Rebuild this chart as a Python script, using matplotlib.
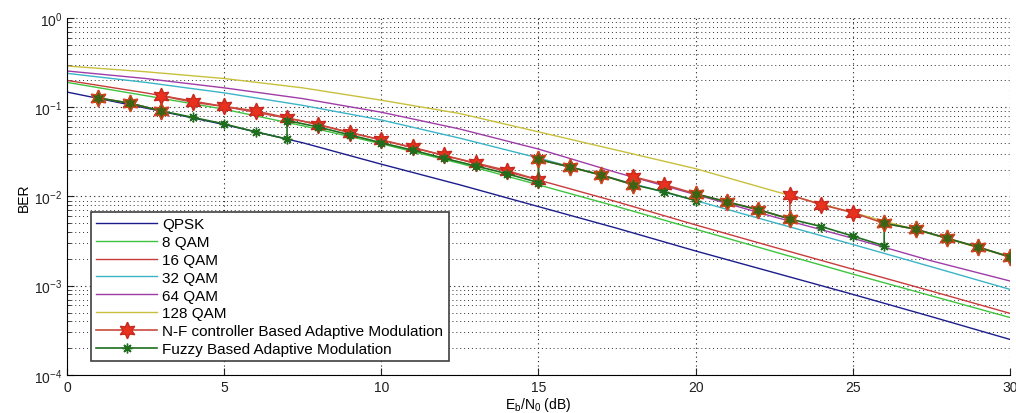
import matplotlib
matplotlib.use("Agg")
import matplotlib.pyplot as plt
import numpy as np
from matplotlib.ticker import LogLocator, FixedLocator, NullFormatter

plt.rcParams['font.family'] = ['Liberation Sans', 'DejaVu Sans']

# ---- theoretical curves (read at 2.5 dB steps) ----
snr = [0, 2.5, 5, 7.5, 10, 12.5, 15, 17.5, 20, 22.5, 25, 27.5, 30]
ber_qpsk = [0.148, 0.098, 0.064, 0.040, 0.023, 0.0135, 0.0077, 0.0044, 0.00245, 0.00140, 0.00080, 0.00045, 0.00025]
ber_8qam = [0.19, 0.135, 0.095, 0.062, 0.039, 0.0235, 0.0135, 0.0077, 0.0043, 0.0024, 0.00135, 0.00077, 0.00044]
ber_16qam = [0.20, 0.145, 0.102, 0.070, 0.043, 0.026, 0.0153, 0.0087, 0.0048, 0.0027, 0.00153, 0.00087, 0.00049]
ber_32qam = [0.24, 0.19, 0.145, 0.105, 0.072, 0.045, 0.027, 0.0155, 0.009, 0.0051, 0.0029, 0.00163, 0.00091]
ber_64qam = [0.255, 0.21, 0.165, 0.125, 0.088, 0.057, 0.034, 0.0185, 0.0105, 0.0059, 0.0034, 0.0019, 0.00113]
ber_128qam = [0.29, 0.25, 0.21, 0.165, 0.12, 0.085, 0.053, 0.033, 0.0205, 0.0115, 0.0066, 0.0038, 0.0021]

# ---- adaptive modulation results ----
nf_x = [1, 2, 3, 3, 4, 5, 6, 7, 8, 9, 10, 11, 12, 13, 14, 15, 15, 16, 17, 18, 18,
        19, 20, 21, 22, 23, 23, 24, 25, 26, 27, 28, 29, 30]
nf_ber = [0.127, 0.111, 0.091, 0.135, 0.114, 0.102, 0.091, 0.076, 0.064, 0.052, 0.043,
          0.0355, 0.0288, 0.0237, 0.0195, 0.0153, 0.026, 0.0214, 0.0174, 0.0136, 0.0167,
          0.0136, 0.0107, 0.0087, 0.0071, 0.0056, 0.0104, 0.0081, 0.0066, 0.005, 0.0043,
          0.0034, 0.0027, 0.0021]
fz_x = [1, 2, 3, 4, 5, 6, 7, 7, 8, 9, 10, 11, 12, 13, 14, 15, 15, 16, 17, 18, 19, 20, 20,
        21, 22, 23, 24, 25, 26, 26, 27, 28, 29, 30]
fz_ber = [0.127, 0.111, 0.091, 0.077, 0.065, 0.053, 0.044, 0.071, 0.060, 0.049, 0.040,
          0.033, 0.0268, 0.022, 0.018, 0.0143, 0.026, 0.0214, 0.0174, 0.0136, 0.0113,
          0.009, 0.0107, 0.0087, 0.0071, 0.0056, 0.0046, 0.0036, 0.0028, 0.005, 0.0043,
          0.0034, 0.0027, 0.0021]

labels = ['QPSK', '8 QAM', '16 QAM', '32 QAM', '64 QAM', '128 QAM',
          'N-F controller Based Adaptive Modulation', 'Fuzzy Based Adaptive Modulation']
colors = ['#1c1c8c', '#3fc43f', '#c83c3c', '#3cb4c8', '#a03ca8', '#c8c03c']

hexagram = (6, 1, 0)
asterisk = (8, 2, 0)

fig = plt.figure(figsize=(10.16, 4.14), dpi=100)
ax = fig.add_axes([0.066, 0.092, 0.928, 0.862])

curves = [ber_qpsk, ber_8qam, ber_16qam, ber_32qam, ber_64qam, ber_128qam]
for c, col, lab in zip(curves, colors, labels[:6]):
    ax.semilogy(snr, c, color=col, lw=1.0, label=lab)

ax.semilogy(nf_x, nf_ber, color='#c84a3c', lw=1.2, marker=hexagram, markersize=12,
            markerfacecolor='#e8321e', markeredgecolor='#c8281e', label=labels[6], zorder=4)
ax.semilogy(fz_x, fz_ber, color='#1e6e1e', lw=1.2, marker=asterisk, markersize=7,
            markeredgewidth=1.0, markerfacecolor='#1e6e1e', markeredgecolor='#1e6e1e',
            label=labels[7], zorder=5)

# shared points (both controllers select the same modulation)
nf_pts = set(zip(nf_x, nf_ber))
common = [p for p in zip(fz_x, fz_ber) if p in nf_pts]
cx = [p[0] for p in common]
cy = [p[1] for p in common]
ax.semilogy(cx, cy, ls='none', marker=hexagram, markersize=12, markerfacecolor='#3c6414',
            markeredgecolor='#d2461e', markeredgewidth=1.0, zorder=6)

ax.set_xlim(0, 30)
ax.set_ylim(1e-4, 1)
ax.xaxis.set_major_locator(FixedLocator([0, 5, 10, 15, 20, 25, 30]))
ax.yaxis.set_major_locator(LogLocator(base=10, numticks=10))
ax.yaxis.set_minor_locator(LogLocator(base=10, subs=np.arange(2, 10), numticks=20))
ax.yaxis.set_minor_formatter(NullFormatter())
ax.grid(True, which='major', ls=(0, (1, 3)), color='#202020', lw=0.8)
ax.grid(True, which='minor', axis='y', ls=(0, (1, 3)), color='#303030', lw=0.7)
ax.spines['top'].set_visible(False)
ax.spines['right'].set_visible(False)
ax.tick_params(which='both', direction='in', labelsize=10, colors='#202020')
ax.tick_params(which='major', length=5)
ax.tick_params(which='minor', length=3)

ax.set_xlabel('E$_\\mathregular{b}$/N$_\\mathregular{0}$ (dB)', fontsize=10, labelpad=1)
ax.set_ylabel('BER', fontsize=10, labelpad=2)

leg = ax.legend(loc='lower left', bbox_to_anchor=(0.025, 0.038), fontsize=11,
                handlelength=4.0, handletextpad=0.35, labelspacing=0.25,
                borderpad=0.35, borderaxespad=0.0, fancybox=False, framealpha=1,
                edgecolor='#404040')
leg.get_frame().set_linewidth(1.2)

fig.savefig('out.png', dpi=100)
